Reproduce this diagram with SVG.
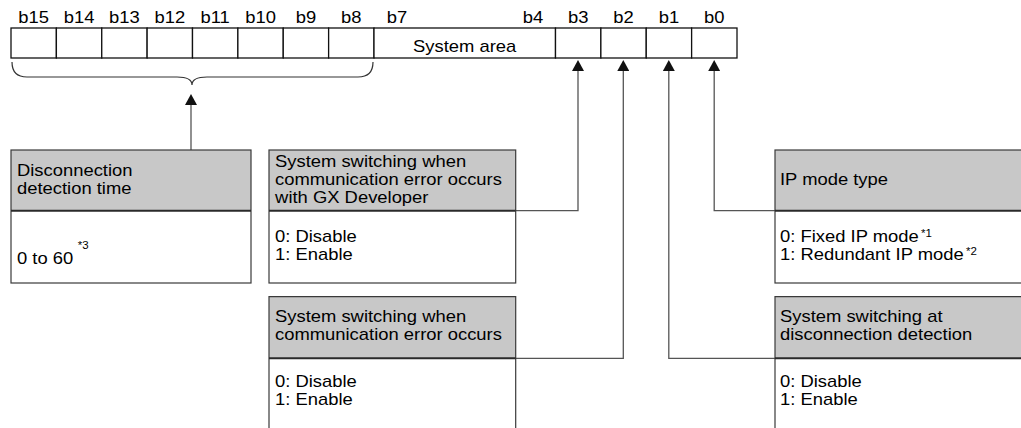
<svg xmlns="http://www.w3.org/2000/svg" width="1021" height="428" viewBox="0 0 1021 428">
<style>
text{font-family:"Liberation Sans",Arial,Helvetica,sans-serif;font-size:16px;fill:#000;transform-box:fill-box;transform-origin:0 0;transform:scaleX(1.15)}
text.c{text-anchor:middle;transform-origin:50% 50%}
.sup{font-size:10px}
.cell{fill:#fff;stroke:#111;stroke-width:1.3}
.hdr{fill:#c8c8c8;stroke:none}
.body{fill:#fff;stroke:none}
.border{fill:none;stroke:#3a3a3a;stroke-width:1.2}
.sep{stroke:#2a2a2a;stroke-width:2}
.conn{fill:none;stroke:#555;stroke-width:1.3}
</style>
<defs>
<marker id="ah" viewBox="0 0 11 12" refX="9" refY="6" markerWidth="11" markerHeight="12" markerUnits="userSpaceOnUse" orient="auto">
<path d="M0,0 L11,6 L0,12 z" fill="#111"/>
</marker>
</defs>

<g id="register">
<rect class="cell" x="11" y="28" width="45.375" height="30"/>
<rect class="cell" x="56.375" y="28" width="45.375" height="30"/>
<rect class="cell" x="101.75" y="28" width="45.375" height="30"/>
<rect class="cell" x="147.125" y="28" width="45.375" height="30"/>
<rect class="cell" x="192.5" y="28" width="45.375" height="30"/>
<rect class="cell" x="237.875" y="28" width="45.375" height="30"/>
<rect class="cell" x="283.25" y="28" width="45.375" height="30"/>
<rect class="cell" x="328.625" y="28" width="45.375" height="30"/>
<rect class="cell" x="374" y="28" width="181.5" height="30"/>
<rect class="cell" x="555.5" y="28" width="45.375" height="30"/>
<rect class="cell" x="600.875" y="28" width="45.375" height="30"/>
<rect class="cell" x="646.25" y="28" width="45.375" height="30"/>
<rect class="cell" x="691.625" y="28" width="45.375" height="30"/>
<text class="c" x="464.7" y="52">System area</text>
<text class="c" x="33.7" y="23">b15</text>
<text class="c" x="79.1" y="23">b14</text>
<text class="c" x="124.4" y="23">b13</text>
<text class="c" x="169.8" y="23">b12</text>
<text class="c" x="215.2" y="23">b11</text>
<text class="c" x="260.6" y="23">b10</text>
<text class="c" x="305.9" y="23">b9</text>
<text class="c" x="351.3" y="23">b8</text>
<text class="c" x="397" y="23">b7</text>
<text class="c" x="533" y="23">b4</text>
<text class="c" x="578.2" y="23">b3</text>
<text class="c" x="623.6" y="23">b2</text>
<text class="c" x="668.9" y="23">b1</text>
<text class="c" x="714.3" y="23">b0</text>
<path d="M12,62 Q12,77 27,77 L177,77 Q192,77 192,85 Q192,77 207,77 L358,77 Q373,77 373,62" fill="none" stroke="#333" stroke-width="1.2"/>
</g>

<g id="connectors">
<path class="conn" d="M191,150 V96" marker-end="url(#ah)"/>
<path class="conn" d="M515.7,210.7 H578 V62" marker-end="url(#ah)"/>
<path class="conn" d="M515.7,358.3 H623.3 V62" marker-end="url(#ah)"/>
<path class="conn" d="M775,358.3 H668.8 V62" marker-end="url(#ah)"/>
<path class="conn" d="M775,210.7 H714.2 V62" marker-end="url(#ah)"/>
</g>

<g id="node-b8-15">
<rect class="hdr" x="11" y="150" width="240" height="60.7"/>
<rect class="body" x="11" y="210.7" width="240" height="72.3"/>
<rect class="border" x="11" y="150" width="240" height="133"/>
<line class="sep" x1="11" y1="210.7" x2="251" y2="210.7"/>
<text x="17" y="176">Disconnection</text>
<text x="17" y="194">detection time</text>
<text x="17" y="264">0 to 60<tspan class="sup" dx="4" dy="-15">*3</tspan></text>
</g>

<g id="node-b3">
<rect class="hdr" x="269" y="150" width="246.7" height="60.7"/>
<rect class="body" x="269" y="210.7" width="246.7" height="72.3"/>
<rect class="border" x="269" y="150" width="246.7" height="133"/>
<line class="sep" x1="269" y1="210.7" x2="515.7" y2="210.7"/>
<text x="275" y="166.7">System switching when</text>
<text x="275" y="185">communication error occurs</text>
<text x="275" y="203">with GX Developer</text>
<text x="275" y="241.7">0: Disable</text>
<text x="275" y="260.5">1: Enable</text>
</g>

<g id="node-b2">
<rect class="hdr" x="269" y="296.7" width="246.7" height="61.6"/>
<rect class="body" x="269" y="358.3" width="246.7" height="80"/>
<path class="border" d="M269,440 V296.7 H515.7 V440"/>
<line class="sep" x1="269" y1="358.3" x2="515.7" y2="358.3"/>
<text x="275" y="321.7">System switching when</text>
<text x="275" y="340">communication error occurs</text>
<text x="275" y="386.7">0: Disable</text>
<text x="275" y="405.5">1: Enable</text>
</g>

<g id="node-b0">
<rect class="hdr" x="775" y="150" width="260" height="60.7"/>
<rect class="body" x="775" y="210.7" width="260" height="72.3"/>
<rect class="border" x="775" y="150" width="260" height="133"/>
<line class="sep" x1="775" y1="210.7" x2="1035" y2="210.7"/>
<text x="780" y="185">IP mode type</text>
<text x="780" y="241.7">0: Fixed IP mode<tspan class="sup" dx="2" dy="-5">*1</tspan></text>
<text x="780" y="260">1: Redundant IP mode<tspan class="sup" dx="2" dy="-5">*2</tspan></text>
</g>

<g id="node-b1">
<rect class="hdr" x="775" y="296.7" width="260" height="61.6"/>
<rect class="body" x="775" y="358.3" width="260" height="80"/>
<path class="border" d="M775,440 V296.7 H1035"/>
<line class="sep" x1="775" y1="358.3" x2="1035" y2="358.3"/>
<text x="780" y="321.7">System switching at</text>
<text x="780" y="340">disconnection detection</text>
<text x="780" y="386.7">0: Disable</text>
<text x="780" y="405.5">1: Enable</text>
</g>
</svg>
